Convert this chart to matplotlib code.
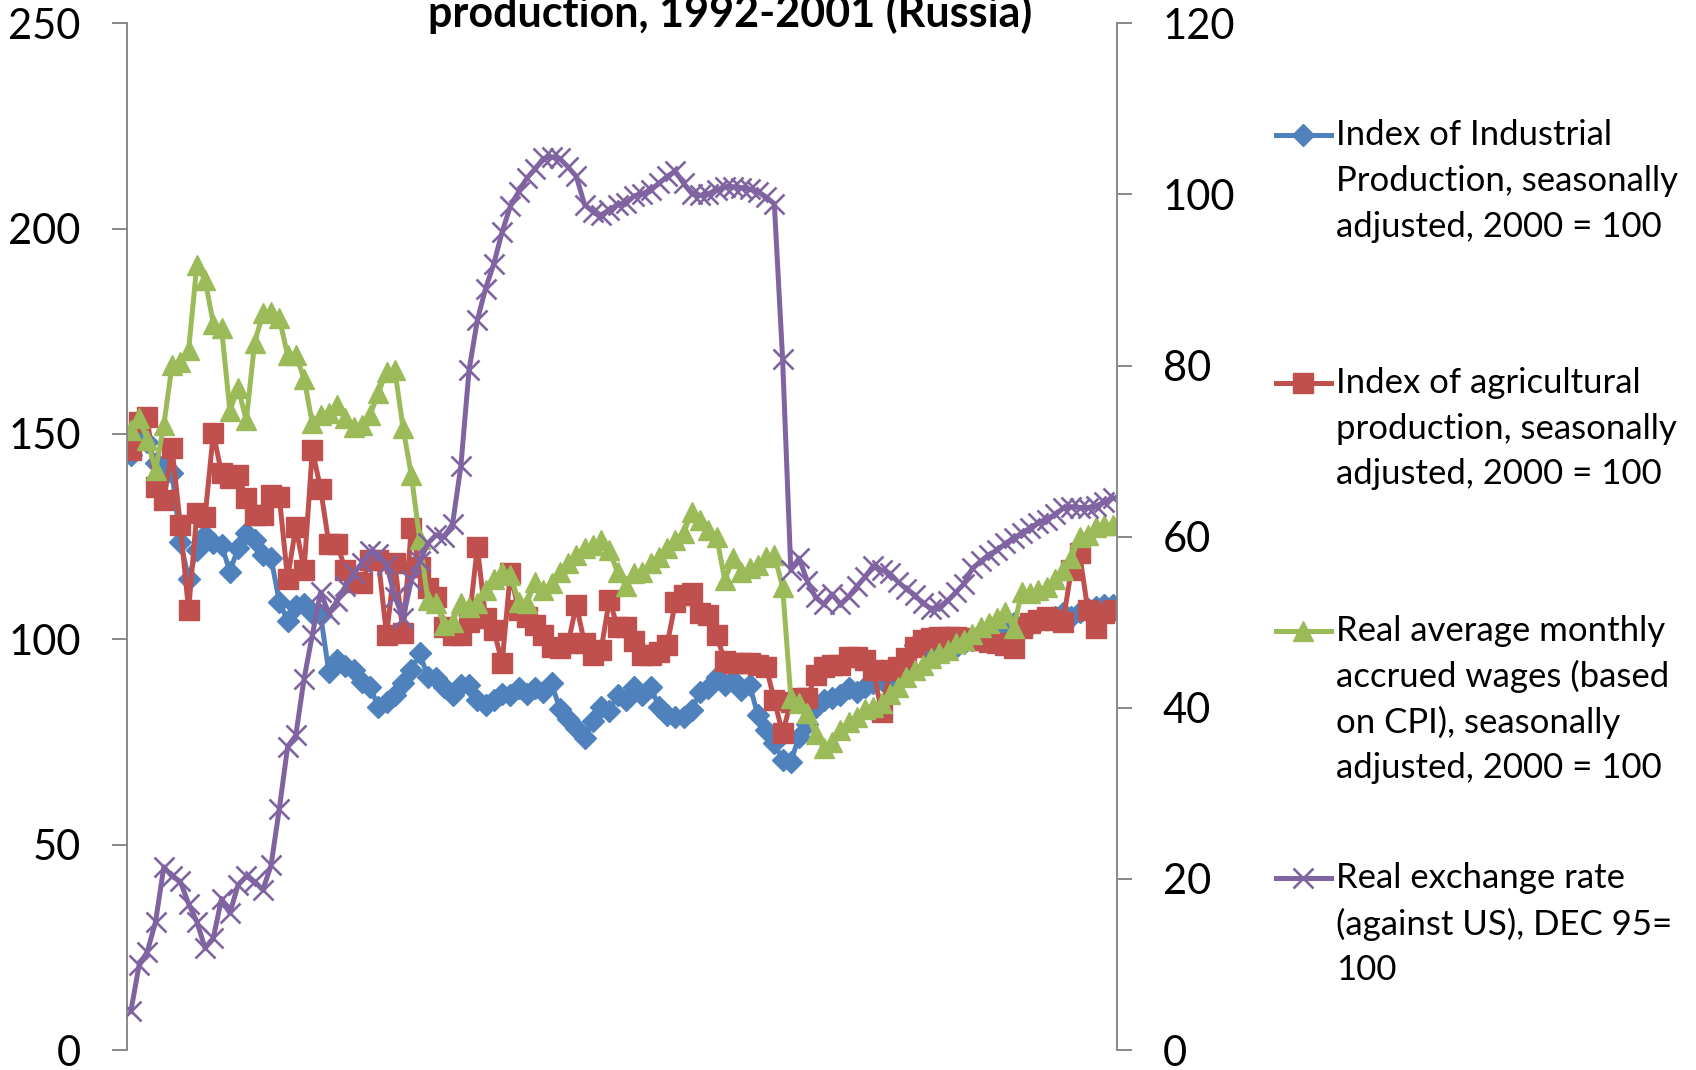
import numpy as np
import matplotlib
matplotlib.use("Agg")
import matplotlib.pyplot as plt
from matplotlib.lines import Line2D

plt.rcParams['font.family'] = ['Lato', 'DejaVu Sans']

# monthly data, Jan 1992 - Dec 2001
months = np.arange(120)

industrial = [
    145, 149.3, 148, 143, 142.4, 140.4, 123.8, 114.8, 121.7, 125.4,
    123.4, 123, 116.5, 122.2, 125.8, 124.2, 120.5, 119.7, 109.2, 104.5,
    108, 108.5, 106.5, 106, 92, 95, 93.5, 92.5, 89.5, 88.5,
    83.5, 84.8, 86.4, 89.3, 92.5, 96.6, 90.9, 90.5, 88.5, 86.4,
    88.9, 88.9, 85.2, 84, 85.2, 86.8, 86.4, 88.1, 86.8, 88.1,
    87.2, 89.3, 83, 80.5, 78.5, 76, 80, 83.5, 82.5, 86.5,
    85.2, 88.5, 86.5, 88.5, 83.6, 81.6, 81, 81, 82.8, 87.2,
    88.1, 90.9, 88.9, 90.1, 87.7, 88.9, 81.6, 77.9, 74.7, 70.6,
    70.2, 76.3, 79.5, 83.5, 85.2, 85.6, 86.4, 88.1, 87.2, 88.5,
    89.3, 90.1, 89.7, 90.9, 92.1, 98.6, 99.4, 97, 96.6, 97.4,
    98.2, 99, 99.8, 100.6, 101.4, 102.2, 103, 104, 102.7, 103.5,
    104.3, 105.1, 105.5, 106.3, 105.5, 106.7, 107.5, 107.9, 108.3, 108.4,
]

agricultural = [
    146.1, 153, 154.2, 137.2, 133.9, 146.5, 127.8, 107.1, 130.7, 129.9,
    150.2, 140.4, 139.2, 140, 134.3, 130.3, 130.3, 135.1, 134.7, 114.8,
    127.4, 116.9, 146.1, 136.7, 123.3, 123.3, 116.9, 114, 113.6, 119.3,
    119.3, 101, 118.5, 101.5, 127, 117.7, 112.4, 110.4, 103.1, 101,
    101, 104.3, 122.5, 105.1, 102.3, 94.2, 116.1, 107.1, 105.5, 103.5,
    101, 98.2, 98, 99, 108.4, 99, 96.2, 97.4, 109.6, 103,
    103, 99.5, 96.2, 96.2, 97, 98.6, 109, 110.8, 111.2, 106.3,
    105.9, 101, 94.6, 94.2, 94.2, 94.2, 93.7, 93.3, 85.2, 77.1,
    84.8, 85.6, 85.6, 91.3, 93.3, 93.7, 93.7, 95.8, 95.8, 95,
    92.5, 82.4, 92.5, 93.3, 95.4, 98.2, 99.8, 100.2, 100.6, 100.6,
    100.6, 100.2, 99.8, 99.8, 99.4, 99, 98.6, 97.8, 102.7, 103.9,
    104.7, 105.5, 104.7, 104.3, 116.9, 120.9, 107.1, 102.7, 106.5, 107.1,
]

wages = [
    151, 153.9, 148.5, 141.2, 152.2, 166.8, 167.6, 170.4, 191.1, 187.5,
    176.9, 175.7, 155.7, 161.1, 153.4, 172.1, 179.4, 179.8, 178.2, 169.2,
    169.2, 163.5, 152.6, 154.6, 155, 157, 153.8, 151.8, 152.2, 154.6,
    160, 165.2, 165.6, 151.4, 140, 124.5, 109.6, 108.8, 103.5, 104.3,
    108.8, 107.9, 108.8, 112, 114.8, 116.5, 115.7, 109.2, 108.8, 114,
    112, 113.6, 116.5, 118.5, 120.5, 122.2, 123, 124.2, 121.7, 116.3,
    113, 116.1, 116.5, 118.5, 120.1, 122.2, 124.2, 125.8, 131.1, 129,
    126.6, 125, 114.4, 119.7, 116.5, 117.3, 118.1, 120.1, 120.5, 112.8,
    85.8, 84.4, 82, 76.9, 73.6, 74.9, 78, 79.9, 81, 83,
    83.6, 84.4, 86.8, 88.5, 90.9, 92.5, 93.7, 95.4, 96.6, 97.5,
    99, 99.8, 101.4, 103.1, 103.9, 105.1, 106.7, 102.7, 111.6, 111.2,
    112, 112.8, 114.8, 116.9, 119.7, 125, 125.4, 127.4, 127.8, 127.8,
]

# secondary axis
exchange = [
    4.5, 9.9, 11.5, 15, 21.4, 20.3, 19.7, 17.1, 15, 11.9,
    13.1, 17.7, 16, 19.3, 20.3, 19.7, 18.7, 21.6, 28.2, 35.4,
    36.8, 43.4, 48.5, 53.5, 51, 52.5, 54.2, 55.7, 56.9, 58.3,
    58, 56.7, 53, 50.5, 54.9, 57.1, 59.2, 60.2, 60, 61.5,
    68.2, 79.5, 85.3, 89, 91.9, 95.6, 98.6, 100.3, 101.9, 103,
    104.2, 104.4, 104.2, 103.2, 102.1, 98.8, 98, 97.6, 98.2, 98.8,
    99, 99.8, 100.1, 100.5, 101.3, 102.1, 102.7, 101.3, 100.1, 99.9,
    100.1, 100.5, 100.9, 100.9, 100.8, 100.6, 100.3, 99.7, 98.9, 80.8,
    56.1, 57.5, 54.8, 52.9, 52.1, 53.3, 52.1, 53, 54.2, 55.3,
    56.6, 56.1, 55.7, 54.7, 53.9, 53.2, 52.2, 51.6, 51.8, 52.5,
    53.5, 54.5, 56.3, 57.1, 57.9, 58.4, 59.2, 59.8, 60.4, 61,
    61.6, 62, 62.6, 63.3, 63.5, 63.4, 63.4, 63.6, 64, 64.5,
]

labels = [
    ["Index of Industrial", "Production, seasonally", "adjusted, 2000 = 100"],
    ["Index of agricultural", "production, seasonally", "adjusted, 2000 = 100"],
    ["Real average monthly", "accrued wages (based", "on CPI), seasonally",
     "adjusted, 2000 = 100"],
    ["Real exchange rate", "(against US), DEC 95=", "100"],
]

colors = ['#4F81BD', '#C0504D', '#9BBB59', '#8064A2']
styles = [dict(marker='D', ms=11), dict(marker='s', ms=14),
          dict(marker='^', ms=14), dict(marker='x', ms=14, mew=1.9)]
LW = 3.6

W, H = 1696, 1070
def fx(x): return x / W
def fy(y): return 1 - y / H

fig = plt.figure(figsize=(W / 100, H / 100), dpi=100)
ax = fig.add_axes([fx(126.7), fy(1050), fx(1116.7) - fx(126.7), fy(23.3) - fy(1050)])
ax2 = ax.twinx()

for vals, c, st in zip([industrial, agricultural, wages], colors[:3], styles[:3]):
    ax.plot(months, vals, color=c, lw=LW, mfc=c, mec=c, **st)
ax2.plot(months, exchange, color=colors[3], lw=LW, mec=colors[3], **styles[3])

grey = '#898989'
ax.set_xlim(-0.5, 119.5)
ax.set_ylim(0, 250)
ax.set_yticks(range(0, 251, 50))
ax2.set_ylim(0, 120)
ax2.set_yticks(range(0, 121, 20))
ax.set_xticks([])

for a in (ax, ax2):
    for s in a.spines.values():
        s.set_visible(False)
ax.spines['left'].set_visible(True)
ax.spines['left'].set_color(grey)
ax.spines['left'].set_linewidth(1.4)
ax2.spines['right'].set_visible(True)
ax2.spines['right'].set_color(grey)
ax2.spines['right'].set_linewidth(1.4)
ax.tick_params(axis='y', length=11, width=1.4, color=grey, pad=22, labelsize=30)
ax2.tick_params(axis='y', length=11, width=1.4, color=grey, pad=22, labelsize=30)

fig.text(fx(730), fy(27), "production, 1992-2001 (Russia)", ha='center',
         va='baseline', fontsize=31, fontweight='bold')

# legend, drawn by hand so the marker sits on the first line
first_y = [135.2, 382.9, 630.6, 878.3]
for lines, c, st, y0 in zip(labels, colors, styles, first_y):
    fig.add_artist(Line2D([fx(1276), fx(1331)], [fy(y0), fy(y0)], color=c, lw=LW,
                          transform=fig.transFigure))
    fig.add_artist(Line2D([fx(1303)], [fy(y0)], color=c, mfc=c, mec=c,
                          transform=fig.transFigure, **st))
    for k, t in enumerate(lines):
        fig.text(fx(1336), fy(y0 + 45.8 * k), t, ha='left', va='center', fontsize=25)

fig.savefig("out.png", dpi=100)
